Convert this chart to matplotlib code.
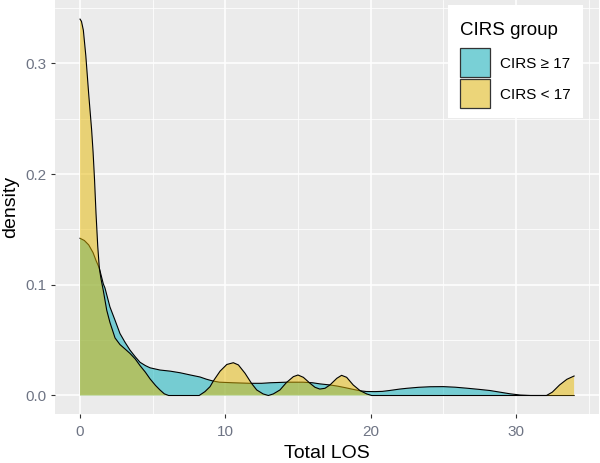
import matplotlib
matplotlib.use("Agg")
import matplotlib.pyplot as plt
from matplotlib.patches import Rectangle
from matplotlib.colors import to_rgb
from matplotlib.ticker import MultipleLocator

plt.rcParams['font.family'] = ['Liberation Sans', 'DejaVu Sans']

# ---- data (Total LOS vs density) ----
group_labels = ["CIRS \u2265 17", "CIRS < 17"]
group_colors = ["#00AFBB", "#E7B800"]

hi_x = [0.0, 0.3, 0.6, 0.9, 1.1, 1.33, 1.6, 1.72, 2.06, 2.41, 2.75, 3.1, 3.44, 3.8,
        4.13, 4.5, 4.82, 5.5, 6.2, 6.9, 7.6, 8.26, 8.7, 9.17, 9.6, 10.5, 11.7, 12.5,
        13.1, 14.2, 15.35, 16.0, 16.5, 17.2, 17.7, 18.2, 18.8, 19.3, 19.7, 20.3, 20.8,
        21.3, 22.0, 22.5, 23.3, 24.1, 25.0, 25.8, 26.6, 27.4, 28.2, 28.9, 29.6, 30.3,
        31.0, 34.0]
hi_y = [0.142, 0.140, 0.136, 0.129, 0.122, 0.115, 0.101, 0.097, 0.080, 0.068, 0.056,
        0.048, 0.041, 0.035, 0.030, 0.027, 0.025, 0.023, 0.022, 0.0205, 0.0185, 0.0167,
        0.0147, 0.013, 0.012, 0.0115, 0.011, 0.011, 0.0115, 0.012, 0.012, 0.0115,
        0.0105, 0.0095, 0.0085, 0.0072, 0.0055, 0.0042, 0.0036, 0.0035, 0.0037,
        0.0045, 0.0058, 0.0065, 0.0074, 0.0079, 0.0080, 0.0075, 0.0066, 0.0056,
        0.0045, 0.0030, 0.0015, 0.0004, 0.0, 0.0]

lo_x = [0.0, 0.1, 0.23, 0.4, 0.6, 0.8, 0.9, 1.0, 1.1, 1.22, 1.33, 1.45, 1.6, 1.84,
        2.06, 2.41, 2.75, 3.1, 3.44, 3.8, 4.13, 4.5, 4.82, 5.2, 5.5, 5.8, 6.1, 8.2,
        8.6, 8.95, 9.17, 9.64, 10.1, 10.55, 10.9, 11.36, 11.8, 12.16, 12.6, 12.96,
        13.3, 13.76, 14.2, 14.68, 15.0, 15.37, 15.83, 16.17, 16.5, 16.86, 17.2,
        17.67, 18.0, 18.35, 18.8, 19.27, 19.73, 20.07, 32.1, 32.5, 33.0, 33.5, 34.0]
lo_y = [0.340, 0.338, 0.330, 0.307, 0.272, 0.240, 0.220, 0.195, 0.165, 0.135, 0.115,
        0.105, 0.095, 0.077, 0.066, 0.052, 0.046, 0.042, 0.038, 0.033, 0.027, 0.021,
        0.015, 0.009, 0.005, 0.0015, 0.0, 0.0, 0.0035, 0.008, 0.013, 0.022, 0.028,
        0.0296, 0.0276, 0.020, 0.011, 0.005, 0.0014, 0.0, 0.0014, 0.005, 0.0116,
        0.017, 0.0185, 0.0164, 0.011, 0.0074, 0.0058, 0.0065, 0.0095, 0.0155,
        0.0182, 0.0164, 0.0095, 0.0044, 0.0014, 0.0, 0.0, 0.003, 0.0095, 0.0146,
        0.0176]

x_ticks = [0, 10, 20, 30]
y_ticks = [0.0, 0.1, 0.2, 0.3]
y_tick_labels = ["0.0", "0.1", "0.2", "0.3"]
legend_title = "CIRS group"

# ---- figure ----
W, H = 600, 463
fig = plt.figure(figsize=(W / 100, H / 100), dpi=100)
left, right, bottom_px, top_px = 55.3, 598.8, 414.3, 0.3
ax = fig.add_axes([left / W, 1 - bottom_px / H, (right - left) / W, (bottom_px - top_px) / H])
ax.set_facecolor("#EBEBEB")
for s in ax.spines.values():
    s.set_visible(False)

ax.set_xlim(-1.7, 35.7)
ax.set_ylim(-0.017, 0.357)

ax.xaxis.set_minor_locator(MultipleLocator(5))
ax.yaxis.set_minor_locator(MultipleLocator(0.05))
ax.set_xticks(x_ticks)
ax.set_yticks(y_ticks)
ax.set_yticklabels(y_tick_labels)
ax.grid(which="major", color="white", lw=1.1)
ax.grid(which="minor", color="white", lw=0.55)
ax.set_axisbelow(True)
ax.tick_params(which="major", length=3, width=0.8, color="#333333",
               labelsize=11, labelcolor="#6E7484")
ax.tick_params(axis="x", which="major", pad=5)
ax.tick_params(axis="y", which="major", pad=3)
ax.tick_params(which="minor", length=0)

for xs, ys, col in [(hi_x, hi_y, group_colors[0]), (lo_x, lo_y, group_colors[1])]:
    ax.fill_between(xs, 0, ys, facecolor=col, alpha=0.5, lw=0, zorder=2)
    ax.plot(xs, ys, color="black", lw=0.8, zorder=2)

ax.set_xlabel("Total LOS", fontsize=14, color="black", labelpad=4)
ax.set_ylabel("density", fontsize=14, color="black", labelpad=5)


# ---- legend drawn in figure pixel coordinates (origin top-left) ----
def fx(px):
    return px / W


def fy(py):
    return 1 - py / H


fig.patches.append(Rectangle((fx(448), fy(118)), (583 - 448) / W, (118 - 5) / H,
                             transform=fig.transFigure, facecolor="white",
                             edgecolor="none", zorder=5))
fig.text(fx(460), fy(35), legend_title, fontsize=13.5, color="black",
         ha="left", va="baseline", zorder=6)
key_tops = [48, 79]
for top, col, lab in zip(key_tops, group_colors, group_labels):
    r, g, b = to_rgb(col)
    bg = 0.949
    face = (0.5 * r + 0.5 * bg, 0.5 * g + 0.5 * bg, 0.5 * b + 0.5 * bg)
    fig.patches.append(Rectangle((fx(460), fy(top + 29)), 30 / W, 29 / H,
                                 transform=fig.transFigure, facecolor=face,
                                 edgecolor="#333333", lw=0.9, zorder=6))
    fig.text(fx(500), fy(top + 14.5), lab, fontsize=11, color="black",
             ha="left", va="center_baseline", zorder=6)

fig.savefig("out.png", dpi=100)
